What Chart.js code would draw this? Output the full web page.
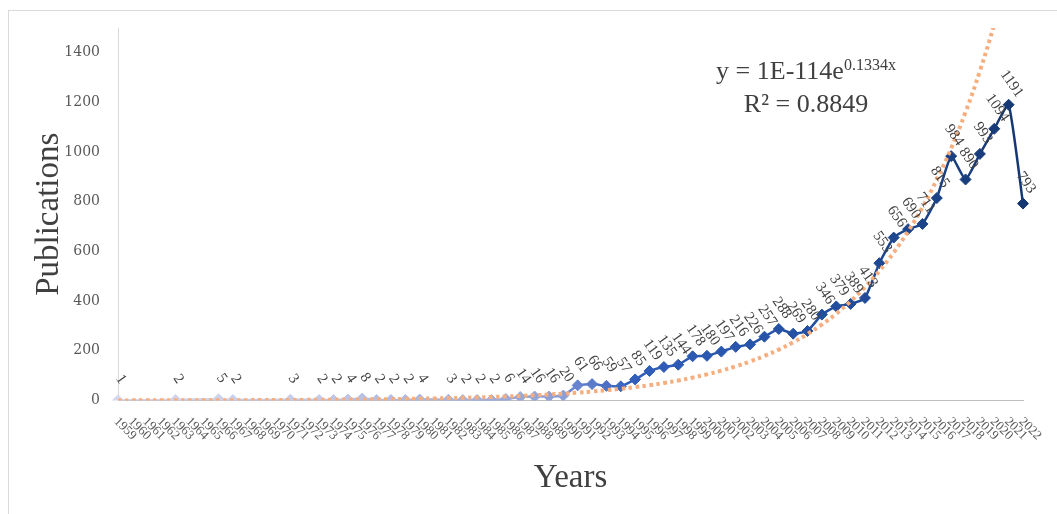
<!DOCTYPE html>
<html>
<head>
<meta charset="utf-8">
<script src="https://cdn.jsdelivr.net/npm/chart.js@4.4.1/dist/chart.umd.min.js"></script>
<style>
    html, body { margin: 0; padding: 0; background: #ffffff; }
    #wrap { position: relative; width: 1057px; height: 514px; }
</style>
</head>
<body>
<div id="wrap"><canvas id="pubs-chart"></canvas></div>
<script>
// ---------------------------------------------------
// DATA
// ---------------------------------------------------
const years = [
    '1959', '1960', '1961', '1962', '1963', '1964', '1965', '1966', '1967', '1968',
    '1969', '1970', '1971', '1972', '1973', '1974', '1975', '1976', '1977', '1978',
    '1979', '1980', '1981', '1982', '1983', '1984', '1985', '1986', '1987', '1988',
    '1989', '1990', '1991', '1992', '1993', '1994', '1995', '1996', '1997', '1998',
    '1999', '2000', '2001', '2002', '2003', '2004', '2005', '2006', '2007', '2008',
    '2009', '2010', '2011', '2012', '2013', '2014', '2015', '2016', '2017', '2018',
    '2019', '2020', '2021', '2022'
];
// null = no publications recorded that year (no marker drawn)
const publications = [
    1, null, null, null, 2, null, null, 5, 2, null,
    null, null, 3, null, 2, 2, 4, 8, 2, 2,
    2, 4, null, 3, 2, 2, 2, 6, 14, 16,
    16, 20, 61, 66, 59, 57, 85, 119, 135, 144,
    178, 180, 197, 216, 226, 257, 288, 269, 280, 346,
    379, 389, 413, 553, 656, 690, 711, 815, 984, 890,
    993, 1094, 1191, 793
];
const yTicks = [ 0, 200, 400, 600, 800, 1000, 1200, 1400 ];
// exponential trendline y = a * e^(b * year), as printed on the chart
const trendA = 1.42e-114;
const trendB = 0.1334;
const equationMain = 'y = 1E-114e';
const equationExp = '0.1334x';
const equationR2 = 'R\u00b2 = 0.8849';
// ---------------------------------------------------
const trendValues = years.map( y => trendA * Math.exp( trendB * Number( y ) ) );

// point colours: light lavender -> dark navy (vary colours by point)
const colorStops = [
    [ 0.000, [ 211, 216, 238 ] ],
    [ 0.400, [ 140, 158, 215 ] ],
    [ 0.415, [ 104, 132, 207 ] ],
    [ 0.490, [ 48, 94, 186 ] ],
    [ 0.750, [ 34, 78, 158 ] ],
    [ 1.000, [ 22, 56, 114 ] ]
];
function stopColor( t ) {
    for ( let k = 1; k < colorStops.length; k++ ) {
        const [ t1, c1 ] = colorStops[ k ];
        const [ t0, c0 ] = colorStops[ k - 1 ];
        if ( t <= t1 ) {
            const f = ( t - t0 ) / ( t1 - t0 );
            const c = c0.map( ( v, j ) => Math.round( v + ( c1[ j ] - v ) * f ) );
            return 'rgb(' + c.join( ',' ) + ')';
        }
    }
    return 'rgb(' + colorStops[ colorStops.length - 1 ][ 1 ].join( ',' ) + ')';
}
const filled = publications.map( ( v, i ) => v === null ? -1 : i ).filter( i => i >= 0 );
const pointColors = publications.map( ( v, i ) => {
    const rank = filled.indexOf( i );
    return rank < 0 ? 'rgba(0,0,0,0)' : stopColor( rank / ( filled.length - 1 ) );
});

const serif = "'Liberation Serif', 'Times New Roman', serif";

// ---------------------------------------------------
// PLUGIN: frame, rotated labels, trendline equation
// ---------------------------------------------------
const decorPlugin = {
    id: 'decor',
    beforeDraw( chart ) {
        const ctx = chart.ctx;
        ctx.save();
        ctx.strokeStyle = '#d9d9d9';
        ctx.lineWidth = 1;
        ctx.strokeRect( 8.5, 10.5, 1080, 540 );
        ctx.restore();
    },
    afterDatasetsDraw( chart ) {
        const ctx = chart.ctx;
        const meta = chart.getDatasetMeta( 0 );
        ctx.save();
        ctx.font = '15px ' + serif;
        ctx.fillStyle = '#404040';
        ctx.textAlign = 'center';
        ctx.textBaseline = 'middle';
        publications.forEach( ( v, i ) => {
            if ( v === null ) return;
            const pt = meta.data[ i ];
            ctx.save();
            ctx.translate( pt.x + 3, pt.y - 21 );
            ctx.rotate( 55 * Math.PI / 180 );
            ctx.fillText( String( v ), 0, 0 );
            ctx.restore();
        });
        ctx.restore();
    },
    afterDraw( chart ) {
        const ctx = chart.ctx;
        const xs = chart.scales.x;
        // x tick labels, rotated clockwise
        ctx.save();
        ctx.font = '13px ' + serif;
        ctx.fillStyle = '#595959';
        ctx.textAlign = 'left';
        ctx.textBaseline = 'middle';
        years.forEach( ( y, i ) => {
            ctx.save();
            ctx.translate( xs.getPixelForValue( i ) - 2, xs.top + 19 );
            ctx.rotate( 45 * Math.PI / 180 );
            ctx.fillText( y, 0, 0 );
            ctx.restore();
        });
        ctx.restore();
        // trendline equation
        ctx.save();
        ctx.fillStyle = '#404040';
        ctx.textBaseline = 'alphabetic';
        ctx.textAlign = 'left';
        const cx = 806;
        ctx.font = '26px ' + serif;
        const w1 = ctx.measureText( equationMain ).width;
        ctx.font = '16px ' + serif;
        const w2 = ctx.measureText( equationExp ).width;
        const x0 = cx - ( w1 + w2 ) / 2;
        ctx.font = '26px ' + serif;
        ctx.fillText( equationMain, x0, 79 );
        ctx.font = '16px ' + serif;
        ctx.fillText( equationExp, x0 + w1, 70 );
        ctx.font = '26px ' + serif;
        ctx.textAlign = 'center';
        ctx.fillText( equationR2, cx, 112 );
        ctx.restore();
    }
};

// ---------------------------------------------------
const pubsChart = new Chart( document.querySelector( '#pubs-chart' ), {
    type: 'line',
    data: {
        labels: years,
        datasets: [
            {
                label: 'Publications',
                data: publications,
                order: 1,
                spanGaps: true,
                borderWidth: 2.5,
                tension: 0.15,
                pointStyle: 'rectRot',
                pointRadius: 5.5,
                pointBackgroundColor: pointColors,
                pointBorderColor: pointColors,
                pointBorderWidth: 1,
                borderColor: '#2f5db5',
                segment: {
                    borderColor: c => pointColors[ c.p1DataIndex ]
                }
            },
            {
                label: 'Expon. (Publications)',
                data: trendValues,
                order: 0,
                borderColor: '#f7ae7e',
                borderWidth: 4,
                borderDash: [ 3.5, 3.5 ],
                borderCapStyle: 'butt',
                pointRadius: 0,
                tension: 0.4,
                fill: false
            }
        ]
    },
    options: {
        responsive: true,
        maintainAspectRatio: false,
        animation: false,
        layout: { padding: { top: 28, right: 34, left: 0, bottom: 0 } },
        plugins: {
            legend: { display: false },
            tooltip: { enabled: false }
        },
        scales: {
            x: {
                offset: false,
                grid: { display: false },
                border: { display: true, color: '#bfbfbf', width: 1 },
                ticks: { display: false },
                title: {
                    display: true,
                    text: 'Years',
                    color: '#404040',
                    font: { family: serif, size: 33 },
                    padding: { top: 0, bottom: 16 }
                },
                afterFit: s => { s.height = 113.5; }
            },
            y: {
                min: 0,
                max: 1500,
                grid: { display: false },
                border: { display: true, color: '#d9d9d9', width: 1 },
                afterBuildTicks: s => { s.ticks = yTicks.map( v => ({ value: v }) ); },
                ticks: {
                    includeBounds: false,
                    padding: 10,
                    color: '#595959',
                    font: { family: "'DejaVu Serif', serif", size: 14 },
                    callback: v => String( v )
                },
                title: {
                    display: true,
                    text: 'Publications',
                    color: '#404040',
                    font: { family: serif, size: 33 },
                    padding: { top: 30, bottom: 0 }
                },
                afterFit: s => { s.width = 118; }
            }
        }
    },
    plugins: [ decorPlugin ]
});
// ---------------------------------------------------
</script>
</body>
</html>
